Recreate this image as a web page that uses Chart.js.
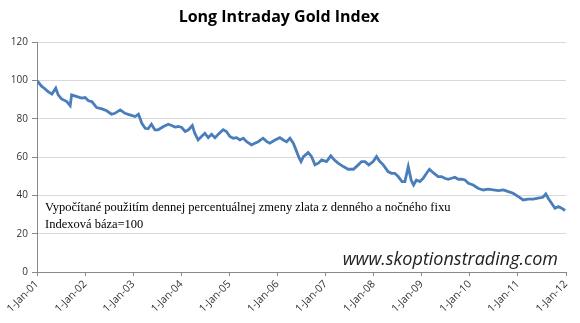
<!DOCTYPE html>
<html>
<head>
<meta charset="utf-8">
<script src="https://cdn.jsdelivr.net/npm/chart.js@4"></script>
<style>
  html, body { margin: 0; padding: 0; background: #fff; }
  #wrap { width: 580px; height: 323px; }
</style>
</head>
<body>
<div id="wrap"><canvas id="chart" width="580" height="323"></canvas></div>
<script>
// values (x = fractional year, y = index)
var years = [2001.00, 2001.10, 2001.17, 2001.23, 2001.31, 2001.39, 2001.44, 2001.51, 2001.62, 2001.69,
  2001.72, 2001.83, 2001.93, 2002.00, 2002.07, 2002.14, 2002.24, 2002.35, 2002.45, 2002.55,
  2002.62, 2002.73, 2002.83, 2002.93, 2003.04, 2003.11, 2003.18, 2003.25, 2003.31, 2003.38,
  2003.45, 2003.52, 2003.63, 2003.73, 2003.80, 2003.87, 2003.94, 2004.01, 2004.08, 2004.15,
  2004.23, 2004.28, 2004.35, 2004.42, 2004.49, 2004.56, 2004.63, 2004.70, 2004.77, 2004.87,
  2004.94, 2005.01, 2005.08, 2005.15, 2005.22, 2005.29, 2005.36, 2005.46, 2005.53, 2005.60,
  2005.70, 2005.78, 2005.84, 2005.95, 2006.05, 2006.12, 2006.19, 2006.26, 2006.33, 2006.40,
  2006.45, 2006.49, 2006.54, 2006.64, 2006.71, 2006.78, 2006.85, 2006.92, 2007.02, 2007.11,
  2007.18, 2007.26, 2007.37, 2007.47, 2007.58, 2007.68, 2007.75, 2007.82, 2007.90, 2007.99,
  2008.06, 2008.13, 2008.20, 2008.30, 2008.37, 2008.44, 2008.51, 2008.59, 2008.65, 2008.72,
  2008.78, 2008.83, 2008.89, 2008.96, 2009.03, 2009.10, 2009.16, 2009.21, 2009.27, 2009.34,
  2009.41, 2009.48, 2009.55, 2009.62, 2009.69, 2009.76, 2009.83, 2009.90, 2009.97, 2010.07,
  2010.17, 2010.28, 2010.38, 2010.49, 2010.59, 2010.70, 2010.80, 2010.90, 2011.01, 2011.11,
  2011.21, 2011.32, 2011.42, 2011.52, 2011.58, 2011.63, 2011.70, 2011.77, 2011.84, 2011.91,
  2011.98];
var index = [99.8, 96.8, 95.5, 94.1, 92.8, 95.9, 92.4, 90.3, 88.9, 86.8,
  92.4, 91.5, 90.7, 91.0, 89.3, 88.9, 85.8, 85.1, 84.1, 82.3,
  82.8, 84.6, 82.8, 82.0, 81.1, 82.3, 77.6, 75.0, 74.7, 77.1,
  74.2, 74.2, 75.9, 77.1, 76.4, 75.6, 75.9, 75.4, 73.3, 74.2,
  76.4, 72.4, 68.9, 70.7, 72.4, 70.1, 71.9, 70.1, 71.9, 74.2,
  73.3, 70.7, 69.8, 70.1, 68.9, 69.8, 68.0, 66.3, 67.2, 68.0,
  69.8, 68.0, 67.2, 68.9, 70.1, 68.9, 68.0, 69.8, 67.2, 62.8,
  59.5, 57.6, 60.2, 62.3, 60.2, 55.9, 56.8, 58.5, 57.6, 60.6,
  58.5, 56.8, 55.0, 53.6, 53.6, 55.9, 57.6, 57.6, 55.9, 57.6,
  60.2, 57.6, 55.9, 52.4, 51.5, 51.5, 49.8, 47.2, 47.2, 55.0,
  48.0, 45.4, 48.0, 47.2, 48.9, 51.5, 53.6, 52.4, 51.2, 49.8,
  49.8, 48.9, 48.4, 48.9, 49.4, 48.4, 48.4, 48.0, 46.3, 45.4,
  43.7, 42.8, 43.2, 42.8, 42.5, 42.8, 41.9, 41.1, 39.3, 37.6,
  38.0, 38.0, 38.5, 39.0, 40.7, 38.5, 35.9, 33.3, 34.1, 33.3,
  32.1];
var yTicks = [0, 20, 40, 60, 80, 100, 120];
var xTickYears = [2001, 2002, 2003, 2004, 2005, 2006, 2007, 2008, 2009, 2010, 2011, 2012];
var titleText = 'Long Intraday Gold Index';
var noteLines = ['Vypočítané použitím dennej percentuálnej zmeny zlata z denného a nočného fixu',
  'Indexová báza=100'];
var siteText = 'www.skoptionstrading.com';

var points = years.map(function (y, i) { return { x: y, y: index[i] }; });

var textPlugin = {
  id: 'texts',
  afterDraw: function (chart) {
    var ctx = chart.ctx;
    ctx.save();
    ctx.fillStyle = '#000';
    ctx.font = 'bold 16px "Open Sans", sans-serif';
    ctx.textAlign = 'center';
    ctx.textBaseline = 'middle';
    ctx.fillText(titleText, 279, 17);

    ctx.font = '12.5px "Liberation Serif", serif';
    ctx.textAlign = 'left';
    ctx.textBaseline = 'alphabetic';
    ctx.fillStyle = '#000';
    ctx.fillText(noteLines[0], 45, 211);
    ctx.fillText(noteLines[1], 45, 228);

    ctx.font = 'italic 18px "Open Sans", sans-serif';
    ctx.fillStyle = '#222';
    ctx.textAlign = 'right';
    ctx.fillText(siteText, 558, 265);
    ctx.restore();
  }
};

new Chart(document.getElementById('chart'), {
  type: 'line',
  data: {
    datasets: [{
      data: points,
      borderColor: '#4a7ebb',
      borderWidth: 2.8,
      pointRadius: 0,
      tension: 0,
      fill: false
    }]
  },
  options: {
    responsive: false,
    animation: false,
    layout: { padding: { top: 42, right: 14, left: 0, bottom: 0 } },
    plugins: { legend: { display: false }, tooltip: { enabled: false } },
    scales: {
      x: {
        type: 'linear',
        min: 2001,
        max: 2012,
        afterBuildTicks: function (axis) {
          axis.ticks = xTickYears.map(function (v) { return { value: v }; });
        },
        afterFit: function (axis) { axis.height = 51; },
        grid: { drawOnChartArea: false, drawTicks: true, tickLength: 4, color: '#888' },
        border: { color: '#888' },
        ticks: {
          maxRotation: 45,
          minRotation: 45,
          autoSkip: false,
          padding: 2,
          color: '#333',
          font: { size: 10.5, family: '"Open Sans", sans-serif' },
          callback: function (v) { return '1-Jan-' + String(v).slice(2); }
        }
      },
      y: {
        min: 0,
        max: 120,
        afterBuildTicks: function (axis) {
          axis.ticks = yTicks.map(function (v) { return { value: v }; });
        },
        afterFit: function (axis) { axis.width = 37; },
        grid: { color: '#d9d9d9', tickLength: 5, tickColor: '#888' },
        border: { color: '#888' },
        ticks: {
          padding: 4,
          color: '#333',
          font: { size: 10, family: '"Open Sans", sans-serif' }
        }
      }
    }
  },
  plugins: [textPlugin]
});
</script>
</body>
</html>
